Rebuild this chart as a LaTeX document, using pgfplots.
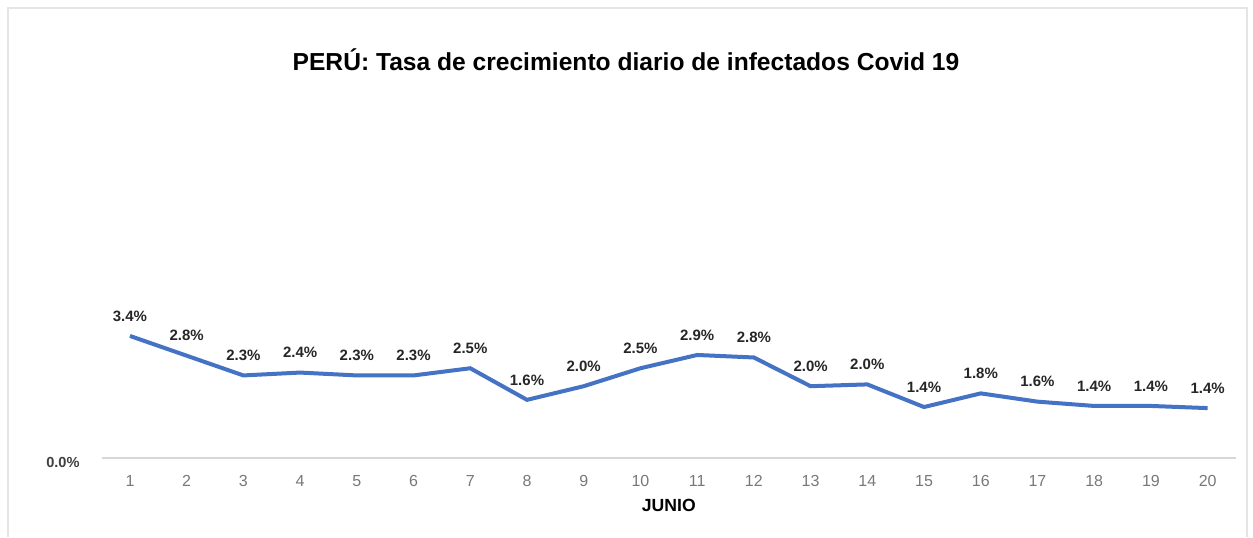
\documentclass[border=0pt]{standalone}
\usepackage{pgfplots}
\pgfplotsset{compat=1.18}
\usepackage{fontspec}
\setmainfont{Liberation Sans}
\definecolor{lineblue}{RGB}{68,114,196}
\definecolor{tickgray}{RGB}{120,120,120}
\definecolor{axgray}{RGB}{215,215,215}
\begin{document}
\begin{tikzpicture}
\useasboundingbox (0,0) rectangle (626.5pt,268.5pt);
\draw[gray!20, line width=0.8pt] (4pt,0) -- (4pt,264.5pt) -- (623.5pt,264.5pt) -- (623.5pt,0);
\node[font=\bfseries\fontsize{12.3}{14}\selectfont] at (313pt,238.5pt) {PERÚ: Tasa de crecimiento diario de infectados Covid 19};
\begin{axis}[
  at={(50.8pt,39.5pt)}, anchor=south west,
  scale only axis, width=567.2pt, height=179.5pt,
  xmin=0.5, xmax=20.5, ymin=0, ymax=10,
  axis x line*=bottom, axis y line*=left,
  y axis line style={draw=none},
  x axis line style={draw=axgray, line width=1pt, -},
  major tick length=0pt,
  /pgf/number format/assume math mode=true,
  xtick={1,...,20},
  ytick={0}, yticklabels={\textbf{0.0\%}},
  xticklabel style={font=\fontsize{8}{10}\selectfont, text=tickgray, anchor=center, yshift=-11.5pt},
  yticklabel style={font=\fontsize{7.3}{8}\selectfont, text=black!75, anchor=east, xshift=-7.5pt, yshift=-2pt},
  xlabel={\textbf{JUNIO}},
  xlabel style={font=\fontsize{8.8}{10}\selectfont, at={(axis description cs:0.5,0)}, anchor=center, yshift=-23.5pt},
  clip=false,
]
\addplot[color=lineblue, line width=2pt, mark=none,
  nodes near coords, point meta=explicit symbolic,
  every node near coord/.style={font=\bfseries\fontsize{7.5}{9}\selectfont, text=black!85, anchor=center, yshift=10pt}]
  table[meta=lab] {
x y lab
1 3.4 3.4\%
2 2.85 2.8\%
3 2.3 2.3\%
4 2.38 2.4\%
5 2.3 2.3\%
6 2.3 2.3\%
7 2.5 2.5\%
8 1.62 1.6\%
9 2.0 2.0\%
10 2.5 2.5\%
11 2.87 2.9\%
12 2.8 2.8\%
13 2.0 2.0\%
14 2.05 2.0\%
15 1.42 1.4\%
16 1.8 1.8\%
17 1.57 1.6\%
18 1.45 1.4\%
19 1.45 1.4\%
20 1.39 1.4\%
};
\end{axis}
\end{tikzpicture}
\end{document}
